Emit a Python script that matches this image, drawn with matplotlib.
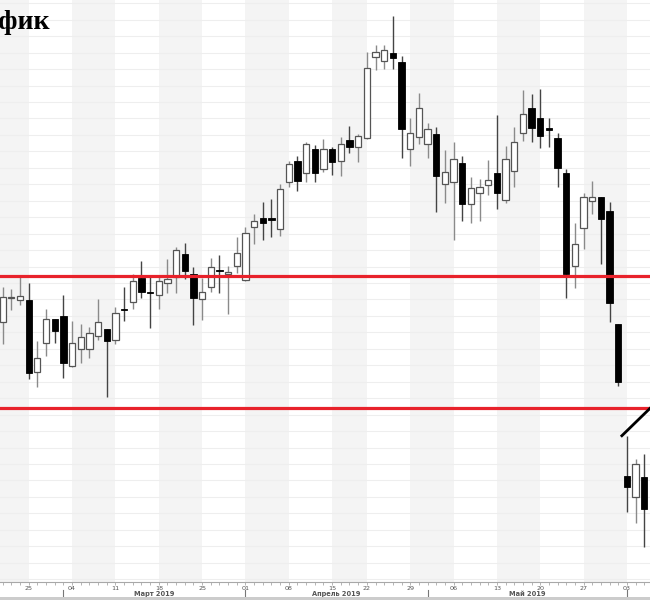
import matplotlib
matplotlib.use("Agg")
import matplotlib.pyplot as plt
import pandas as pd
import numpy as np
from matplotlib.patches import Rectangle

# ---- data ----
dates = pd.bdate_range("2019-02-20", "2019-06-05")
dates = dates[dates != pd.Timestamp("2019-04-19")]

opens = [55.63, 57.10, 56.94, 56.97, 52.61, 54.34, 55.80, 56.00, 52.93, 53.97,
         54.02, 54.78, 55.19, 54.54, 56.43, 56.83, 58.32, 57.42, 57.29, 57.98,
         58.39, 59.76, 58.53, 57.01, 57.74, 58.77, 58.53, 59.04, 58.18, 61.42,
         61.97, 61.89, 61.27, 64.12, 65.42, 64.67, 66.13, 64.91, 66.13, 65.43,
         66.69, 66.25, 66.83, 71.75, 71.51, 71.96, 71.41, 66.13, 66.89, 66.45,
         67.04, 64.00, 64.16, 65.31, 62.78, 63.49, 63.94, 64.67, 63.05, 64.83,
         67.10, 68.66, 68.01, 67.36, 66.83, 64.71, 59.04, 61.33, 63.00, 63.21,
         62.38, 55.51, 46.29, 45.02, 46.19]
highs = [57.78, 57.61, 58.37, 57.98, 54.50, 56.42, 55.82, 57.30, 55.69, 55.51,
         55.33, 57.01, 55.21, 56.53, 57.78, 58.55, 59.34, 58.37, 58.39, 59.44,
         60.21, 60.41, 58.99, 58.29, 59.50, 59.70, 59.04, 60.80, 61.42, 62.21,
         62.94, 63.09, 64.02, 65.42, 65.72, 66.55, 66.39, 66.73, 66.29, 66.89,
         67.54, 67.06, 72.02, 72.47, 72.47, 74.23, 71.82, 68.01, 69.57, 67.71,
         67.46, 66.08, 66.59, 65.72, 64.43, 64.30, 65.48, 68.21, 66.33, 67.50,
         69.73, 69.47, 69.79, 68.05, 67.10, 64.91, 61.63, 63.49, 64.22, 63.23,
         62.94, 55.52, 48.70, 47.29, 47.59]
lows = [54.28, 56.39, 56.67, 52.14, 51.66, 53.57, 54.34, 52.21, 52.90, 53.11,
        53.44, 54.54, 51.06, 54.28, 55.71, 56.40, 57.07, 55.29, 56.40, 57.39,
        57.41, 58.23, 55.45, 55.75, 57.47, 57.41, 56.10, 58.63, 58.15, 60.37,
        60.62, 60.78, 60.86, 63.85, 63.61, 64.16, 64.16, 64.75, 64.57, 64.50,
        65.88, 65.37, 66.73, 70.95, 71.01, 70.99, 65.62, 65.11, 66.45, 65.62,
        62.33, 62.88, 60.62, 61.77, 61.67, 61.79, 63.35, 62.48, 62.85, 63.85,
        66.65, 66.59, 66.22, 66.29, 63.85, 57.07, 57.68, 60.05, 62.20, 59.16,
        55.65, 51.74, 44.10, 43.40, 41.96]
closes = [57.17, 57.15, 57.24, 52.55, 53.46, 55.80, 55.10, 53.16, 54.34, 54.74,
          54.99, 55.61, 54.50, 56.16, 56.37, 58.12, 57.47, 57.38, 58.12, 58.23,
          60.01, 58.75, 57.07, 57.44, 58.96, 58.71, 58.65, 59.81, 61.02, 61.75,
          61.63, 61.85, 63.70, 65.22, 64.22, 66.45, 64.67, 66.13, 65.37, 66.45,
          66.25, 66.95, 71.09, 72.02, 72.16, 71.69, 67.34, 67.10, 68.62, 67.36,
          64.50, 64.73, 65.52, 62.78, 63.76, 63.82, 64.26, 63.49, 65.52, 66.55,
          68.27, 67.44, 66.95, 67.32, 65.01, 58.53, 60.37, 63.25, 63.25, 61.91,
          56.77, 51.97, 45.59, 46.98, 44.27]

levels = [58.43, 50.41]                 # red horizontal levels
trend_x = [71.3, 76.0]                  # trend line (bar index)
trend_y = [48.66, 51.07]
month_names = {3: "Март 2019", 4: "Апрель 2019", 5: "Май 2019"}
title = "График"

# ---- figure ----
W, H = 650, 600
fig = plt.figure(figsize=(W / 100, H / 100), dpi=100)
fig.patch.set_facecolor("white")
axis_y = 582
ax = fig.add_axes([0, 1 - axis_y / H, 1, axis_y / H])
ax.set_facecolor("white")
n = len(dates)
idx = np.arange(n)
ax.set_xlim(-0.311, 74.66)
ax.set_ylim(39.83, 75.20)

# weekly alternating bands
weeks = dates.isocalendar().week.values
starts = [0] + [i for i in range(1, n) if weeks[i] != weeks[i - 1]]
bounds = starts + [n + 2]
for k, s in enumerate(starts):
    a = -2 if k == 0 else s
    b = bounds[k + 1]
    if weeks[s] % 2 == 0:
        ax.axvspan(a, b, color="#f4f4f4", zorder=0, lw=0)

# horizontal grid
ax.set_yticks(np.arange(40, 76, 1))
ax.grid(axis="y", color="#eeeeee", lw=0.8, zorder=0.5)
ax.tick_params(axis="y", left=False, labelleft=False)

# candles
bw = 0.72
for i in idx:
    o, h, l, c = opens[i], highs[i], lows[i], closes[i]
    up = c >= o
    wick = "#8a8a8a" if up else "#444444"
    ax.vlines(i, l, h, color=wick, lw=1.0, zorder=2)
    bot = min(o, c)
    hgt = max(abs(c - o), 0.08)
    if up:
        ax.add_patch(Rectangle((i - bw / 2, bot), bw, hgt, facecolor="white",
                               edgecolor="#555555", lw=0.9, zorder=3))
    else:
        ax.add_patch(Rectangle((i - bw / 2, bot), bw, hgt, facecolor="black",
                               edgecolor="black", lw=0.6, zorder=3))

# red levels
for lv in levels:
    ax.axhline(lv, color="#e8222b", lw=2.3, zorder=4)

# trend line
ax.plot(trend_x, trend_y, color="black", lw=2.0, zorder=5, solid_capstyle="butt")

# spines / x axis
for sp in ["left", "right", "top"]:
    ax.spines[sp].set_visible(False)
ax.spines["bottom"].set_color("#a8a8a8")
ax.spines["bottom"].set_linewidth(0.8)
ax.set_xticks(idx)
ax.tick_params(axis="x", length=2.2, width=0.6, color="#a8a8a8", labelbottom=False)

tr = ax.get_xaxis_transform()
hh = axis_y
for s in starts[1:]:
    ax.text(s, -(588 - axis_y) / hh, dates[s].strftime("%d"), transform=tr,
            ha="center", va="center", fontsize=4.6, color="#555555",
            family="DejaVu Sans", clip_on=False)

months = dates.month.values
mstarts = [i for i in range(1, n) if months[i] != months[i - 1]]
for s in mstarts:
    ax.plot([s, s], [-(590 - axis_y) / hh, -(597 - axis_y) / hh], transform=tr,
            color="#777777", lw=0.8, clip_on=False)
for k in range(len(mstarts) - 1):
    a, b = mstarts[k], mstarts[k + 1]
    ax.text((a + b) / 2, -(594 - axis_y) / hh, month_names[months[a]],
            transform=tr, ha="center", va="center", fontsize=4.8,
            fontweight="bold", color="#555555", family="DejaVu Sans",
            clip_on=False)

# bottom grey strip
fig.patches.append(Rectangle((0, 0), 1, 3 / H, transform=fig.transFigure,
                             facecolor="#cccccc", edgecolor="none"))

# cropped title (the reference shows it cut at the left edge)
fig.text(50 / W, 1 - 29.3 / H, title, ha="right", va="baseline", fontsize=20,
         fontweight="bold", family="Liberation Serif", color="black")

fig.savefig("out.png", dpi=100)
